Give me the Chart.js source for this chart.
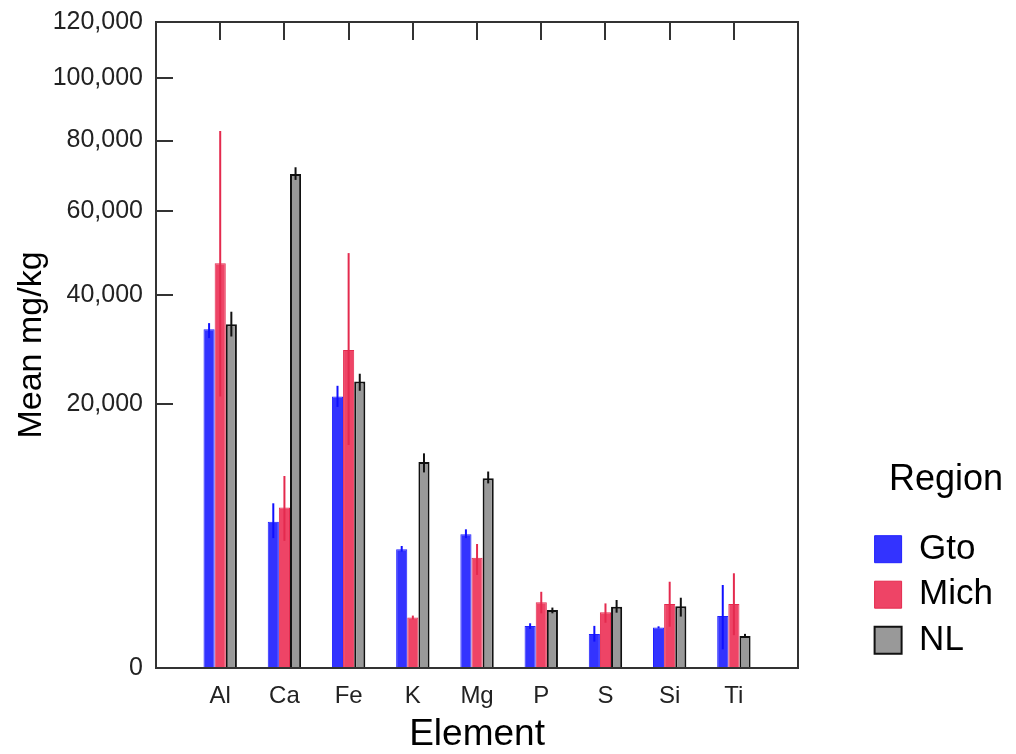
<!DOCTYPE html>
<html lang="en">
<head>
<meta charset="UTF-8" />
<title>Mean mg/kg by element and region</title>
<style>
  html, body { margin: 0; padding: 0; background: #fff; }
  .wrap { width: 1016px; height: 754px; position: relative; }
</style>
</head>
<body>
<div class="wrap"><canvas id="chart"></canvas></div>

<script src="https://cdn.jsdelivr.net/npm/chart.js@4/dist/chart.umd.min.js"></script>
<script>
// data (mg/kg)
const elements = ['Al', 'Ca', 'Fe', 'K', 'Mg', 'P', 'S', 'Si', 'Ti'];
const yTicks = [0, 20000, 40000, 60000, 80000, 100000, 120000];

const gtoMean = [33000, 6150, 21200, 4050, 5150, 510, 330, 470, 780];
const gtoLow  = [31300, 4850, 19600, 3900, 4850, 440, 200, 450, 100];
const gtoHigh = [34200, 7800, 22900, 4280, 5530, 575, 510, 500, 1980];

const michMean = [47100, 7400, 29100, 730, 3500, 1240, 890, 1180, 1180];
const michLow  = [21200, 4650, 14300, 680, 2490, 860, 590, 490, 310];
const michHigh = [82900, 10600, 49500, 790, 4420, 1670, 1200, 2140, 2580];

const nlMean = [34000, 70200, 23600, 12200, 10350, 970, 1080, 1100, 295];
const nlLow  = [31600, 68500, 22100, 11000, 9800, 860, 880, 760, 260];
const nlHigh = [36500, 72100, 24900, 13250, 11100, 1050, 1330, 1420, 335];

// square-root value axis
class SqrtScale extends Chart.LinearScale {
  getPixelForValue(value) {
    if (value === null || isNaN(value)) return NaN;
    const lo = Math.sqrt(this.min), hi = Math.sqrt(this.max);
    return this.getPixelForDecimal((Math.sqrt(Math.max(value, 0)) - lo) / (hi - lo));
  }
  getValueForPixel(pixel) {
    const lo = Math.sqrt(this.min), hi = Math.sqrt(this.max);
    const s = lo + this.getDecimalForPixel(pixel) * (hi - lo);
    return s * s;
  }
}
SqrtScale.id = 'sqrt';
SqrtScale.defaults = Chart.LinearScale.defaults;
Chart.register(SqrtScale);

// leave a full empty slot at both ends of the category axis
function widenCategories(scale) {
  scale._startValue = -1;
  scale._valueRange = elements.length + 1;
}

const errorBars = {
  id: 'errorBars',
  afterDatasetsDraw(chart) {
    const ctx = chart.ctx;
    const yScale = chart.scales.y;
    chart.data.datasets.forEach((ds, i) => {
      const meta = chart.getDatasetMeta(i);
      ctx.save();
      ctx.strokeStyle = ds.errorColor;
      ctx.lineWidth = 2;
      meta.data.forEach((bar, j) => {
        ctx.beginPath();
        ctx.moveTo(bar.x, yScale.getPixelForValue(ds.errLow[j]));
        ctx.lineTo(bar.x, yScale.getPixelForValue(ds.errHigh[j]));
        ctx.stroke();
      });
      ctx.restore();
    });
  }
};

Chart.defaults.font.family = '"Liberation Sans", Arial, sans-serif';
Chart.defaults.color = '#222';

const frame = '#333';

new Chart(document.getElementById('chart'), {
  type: 'bar',
  data: {
    labels: elements,
    datasets: [
      { label: 'Gto', data: gtoMean, errLow: gtoLow, errHigh: gtoHigh, errorColor: '#1010ff',
        backgroundColor: '#3333ff', borderColor: '#2020ff', borderWidth: 1 },
      { label: 'Mich', data: michMean, errLow: michLow, errHigh: michHigh, errorColor: '#e42a4e',
        backgroundColor: '#ee4466', borderColor: '#e42a4e', borderWidth: 1 },
      { label: 'NL', data: nlMean, errLow: nlLow, errHigh: nlHigh, errorColor: '#111',
        backgroundColor: '#999999', borderColor: '#111', borderWidth: 2 }
    ]
  },
  options: {
    responsive: true,
    maintainAspectRatio: false,
    animation: false,
    barPercentage: 1,
    categoryPercentage: 0.52,
    layout: { padding: { top: 22, right: 13, bottom: -3, left: 4 } },
    scales: {
      x: {
        type: 'category',
        offset: true,
        afterBuildTicks: widenCategories,
        afterFit: s => { s.height = 89; },
        grid: { drawOnChartArea: false, drawTicks: false },
        border: { color: frame, width: 2 },
        ticks: { font: { size: 24 }, padding: 14, color: '#222' },
        title: { display: true, text: 'Element', font: { size: 37 }, color: '#000', padding: { top: 0, bottom: 0 } }
      },
      x2: {
        type: 'category',
        position: 'top',
        offset: true,
        afterBuildTicks: widenCategories,
        afterFit: s => { s.height = 0; },
        ticks: { display: false },
        grid: { drawOnChartArea: false, drawTicks: true, tickLength: -18, offset: false, color: frame, lineWidth: 2 },
        border: { color: frame, width: 2 }
      },
      y: {
        type: 'sqrt',
        min: 0,
        max: 120000,
        afterBuildTicks: s => { s.ticks = yTicks.map(v => ({ value: v })); },
        afterFit: s => { s.width = 152; s.paddingTop = 15; s.paddingBottom = 15; },
        grid: { drawOnChartArea: false, drawTicks: true, tickLength: -17, color: frame, lineWidth: 2 },
        border: { color: frame, width: 2 },
        ticks: {
          font: { size: 25 },
          padding: 30,
          color: '#222',
          callback: v => Number(v).toLocaleString('en-US')
        },
        title: { display: true, text: 'Mean mg/kg', font: { size: 34 }, color: '#000', padding: { top: 7, bottom: 0 } }
      },
      y2: {
        type: 'linear',
        position: 'right',
        afterFit: s => { s.width = 66; },
        ticks: { display: false },
        grid: { drawOnChartArea: false, drawTicks: false },
        border: { color: frame, width: 2 }
      }
    },
    plugins: {
      tooltip: { enabled: false },
      legend: {
        position: 'right',
        align: 'start',
        title: {
          display: true,
          text: 'Region',
          position: 'end',
          color: '#000',
          font: { size: 36 },
          padding: { top: 440, bottom: 16 }
        },
        labels: {
          boxWidth: 27,
          boxHeight: 27,
          padding: 10.5,
          color: '#000',
          font: { size: 35 }
        }
      }
    }
  },
  plugins: [errorBars]
});
</script>
</body>
</html>
